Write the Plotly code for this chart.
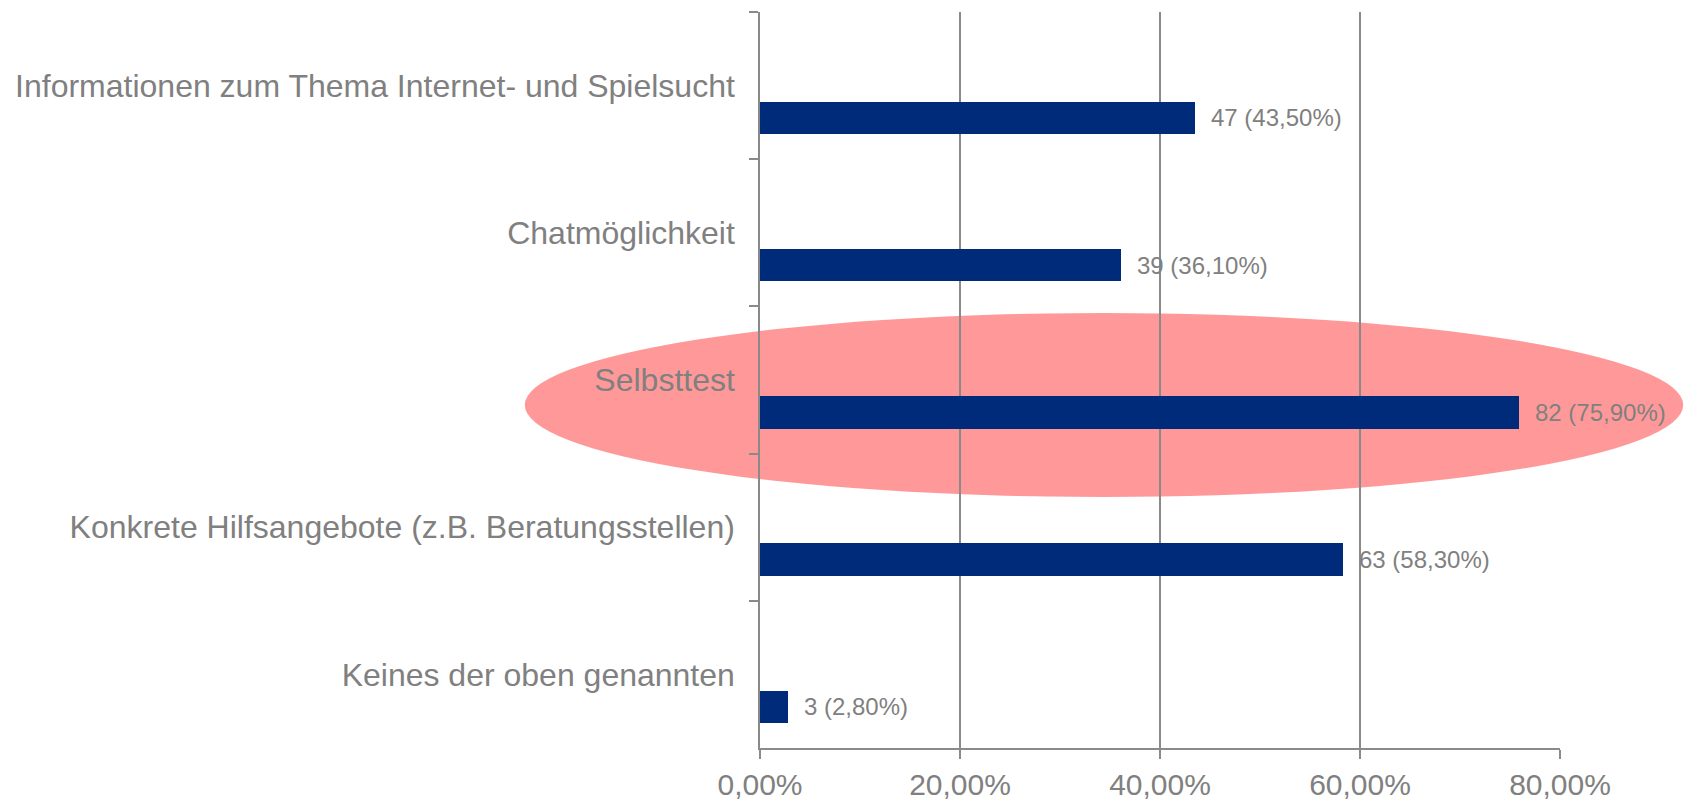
import plotly.graph_objects as go

categories = [
    "Informationen zum Thema Internet- und Spielsucht",
    "Chatmöglichkeit",
    "Selbsttest",
    "Konkrete Hilfsangebote (z.B. Beratungsstellen)",
    "Keines der oben genannten",
]
percent_values = [43.5, 36.1, 75.9, 58.3, 2.8]
counts = [47, 39, 82, 63, 3]
x_tickvals = [0, 20, 40, 60, 80]
x_ticktext = ["0,00%", "20,00%", "40,00%", "60,00%", "80,00%"]

W, H = 1684, 801
M_L, M_R, M_T, M_B = 760, 124, 12, 53
GRAY = "#808080"
LINE = "#8a8a8a"
NAVY = "#002B7A"
BAR_OFFSET, BAR_WIDTH = 0.11, 0.22

labels = [f"{c} ({format(p, '.2f').replace('.', ',')}%)" for c, p in zip(counts, percent_values)]

fig = go.Figure()
fig.add_trace(go.Bar(
    x=percent_values,
    y=categories,
    orientation="h",
    marker=dict(color=NAVY, line=dict(width=0)),
    offset=BAR_OFFSET,
    width=BAR_WIDTH,
    hoverinfo="skip",
))

band = (H - M_T - M_B) / len(categories)
for cat, val, lab in zip(categories, percent_values, labels):
    fig.add_annotation(
        x=val, y=cat, text=lab, showarrow=False,
        xanchor="left", yanchor="middle",
        xshift=14, yshift=-(BAR_OFFSET + BAR_WIDTH / 2) * band,
        font=dict(size=24, color=GRAY, family="Arial, Liberation Sans, sans-serif"),
    )

# highlight ellipse around "Selbsttest"
fig.add_shape(
    type="circle", xref="paper", yref="paper",
    x0=-0.294, x1=1.154, y0=0.341, y1=0.591,
    fillcolor="#FF9999", line=dict(width=0), layer="below",
)

fig.update_layout(
    width=W, height=H,
    margin=dict(l=M_L, r=M_R, t=M_T, b=M_B, pad=0, autoexpand=False),
    paper_bgcolor="white",
    plot_bgcolor="rgba(0,0,0,0)",
    showlegend=False,
    font=dict(family="Arial, Liberation Sans, sans-serif", color=GRAY),
    bargap=0,
)
fig.update_xaxes(
    range=[0, 80],
    tickvals=x_tickvals, ticktext=x_ticktext,
    showgrid=True, gridcolor=LINE, gridwidth=1.5,
    showline=True, linecolor=LINE, linewidth=1.5,
    ticks="outside", ticklen=9, tickcolor=LINE, tickwidth=1.5,
    tickfont=dict(size=30, color=GRAY),
    zeroline=False,
    automargin=False,
)
fig.update_yaxes(
    autorange="reversed",
    type="category",
    showgrid=False,
    showline=True, linecolor=LINE, linewidth=1.5,
    ticks="outside", tickson="boundaries", ticklen=9, tickcolor=LINE, tickwidth=1.5,
    tickfont=dict(size=32, color=GRAY),
    ticklabelstandoff=17,
    zeroline=False,
    automargin=False,
)

fig.write_html(
    "out.html",
    config={"displayModeBar": False},
    post_script="document.body.style.margin='0';document.body.style.overflow='hidden';",
)
